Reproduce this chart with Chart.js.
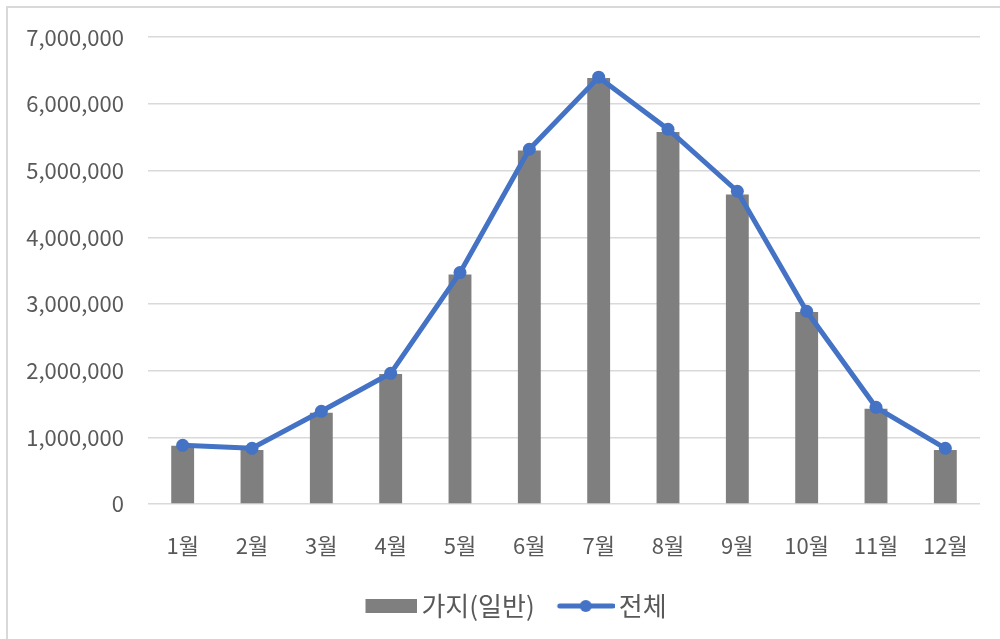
<!DOCTYPE html>
<html>
<head>
<meta charset="utf-8">
<script src="https://cdn.jsdelivr.net/npm/chart.js@4"></script>
<style>
  html, body { margin: 0; padding: 0; background: #fff; }
  #wrap { position: relative; width: 1000px; height: 639px; }
  #frame { position: absolute; left: 6px; top: 6px; right: 0; bottom: 0;
           border-left: 2px solid #d9d9d9; border-top: 2px solid #d9d9d9; }
  canvas { position: absolute; left: 0; top: 0; }
</style>
</head>
<body>
<div id="wrap">
  <div id="frame"></div>
  <canvas id="combo_chart" width="1000" height="639"></canvas>
</div>
<script>
var months = ["1월", "2월", "3월", "4월", "5월", "6월", "7월", "8월", "9월", "10월", "11월", "12월"];
var branchLabel = "가지(일반)";
var totalLabel = "전체";
var branchValues = [875000, 810000, 1370000, 1950000, 3440000, 5300000, 6390000, 5580000, 4640000, 2880000, 1430000, 810000];
var totalValues = [880000, 835000, 1390000, 1960000, 3470000, 5320000, 6400000, 5620000, 4690000, 2890000, 1450000, 835000];
var yTicks = [0, 1000000, 2000000, 3000000, 4000000, 5000000, 6000000, 7000000];

var FONT = "'Noto Sans CJK KR', 'Noto Sans', sans-serif";
var GREY = '#7f7f7f';
var BLUE = '#4472c4';

// legend markers: drawn at the right end of a wider transparent canvas so the
// marker sits close to its text like in Excel
function legendIcon(kind) {
    var c = document.createElement('canvas');
    var ctx = c.getContext('2d');
    c.width = 73; c.height = 14;
    if (kind === 'bar') {
        ctx.fillStyle = GREY;
        ctx.fillRect(21, 0, 52, 14);
    } else {
        ctx.strokeStyle = BLUE;
        ctx.lineWidth = 5;
        ctx.lineCap = 'round';
        ctx.beginPath();
        ctx.moveTo(18, 7);
        ctx.lineTo(71, 7);
        ctx.stroke();
        ctx.fillStyle = BLUE;
        ctx.beginPath();
        ctx.arc(44, 7, 6, 0, Math.PI * 2);
        ctx.fill();
    }
    return c;
}

var icons = [legendIcon('bar'), legendIcon('line')];

// excel centres the legend a bit right of the canvas centre
var legendShift = {
    id: 'legendShift',
    afterLayout: function (chart) {
        chart.legend.left += 17;
        chart.legend.right += 17;
    }
};

new Chart(document.getElementById("combo_chart").getContext("2d"), {
    type: 'bar',
    data: {
        labels: months,
        datasets: [{
            type: 'bar',
            label: branchLabel,
            data: branchValues,
            backgroundColor: GREY,
            categoryPercentage: 1,
            barPercentage: 0.33,
            order: 2
        }, {
            type: 'line',
            label: totalLabel,
            data: totalValues,
            borderColor: BLUE,
            backgroundColor: BLUE,
            borderWidth: 5,
            pointRadius: 6.5,
            pointHoverRadius: 6.5,
            pointBackgroundColor: BLUE,
            pointBorderWidth: 0,
            tension: 0,
            order: 1
        }]
    },
    plugins: [legendShift],
    options: {
        responsive: false,
        animation: false,
        layout: { padding: { left: 6, right: 20, top: 24, bottom: 10 } },
        plugins: {
            tooltip: { enabled: false },
            legend: {
                position: 'bottom',
                labels: {
                    font: { family: FONT, size: 26 },
                    color: '#595959',
                    usePointStyle: true,
                    pointStyleWidth: 55,
                    padding: 16,
                    generateLabels: function (chart) {
                        return chart.data.datasets.map(function (ds, i) {
                            return {
                                text: ds.label,
                                pointStyle: icons[i],
                                fillStyle: 'transparent',
                                strokeStyle: 'transparent',
                                lineWidth: 0,
                                fontColor: '#595959',
                                datasetIndex: i,
                                hidden: false
                            };
                        });
                    }
                }
            }
        },
        scales: {
            x: {
                grid: { display: false },
                border: { display: false },
                ticks: {
                    font: { family: FONT, size: 22 },
                    color: '#595959',
                    padding: 20,
                    maxRotation: 0
                },
                afterFit: function (scale) { scale.height = 73; }
            },
            y: {
                min: 0,
                max: 7000000,
                border: { display: false },
                grid: { color: '#d9d9d9', lineWidth: 1.5, drawTicks: false },
                afterBuildTicks: function (scale) {
                    scale.ticks = yTicks.map(function (v) { return { value: v }; });
                },
                ticks: {
                    font: { family: FONT, size: 22 },
                    color: '#595959',
                    padding: 24,
                    callback: function (v) { return v.toLocaleString('en-US'); }
                },
                afterFit: function (scale) { scale.width = 142; }
            }
        }
    }
});
</script>
</body>
</html>
